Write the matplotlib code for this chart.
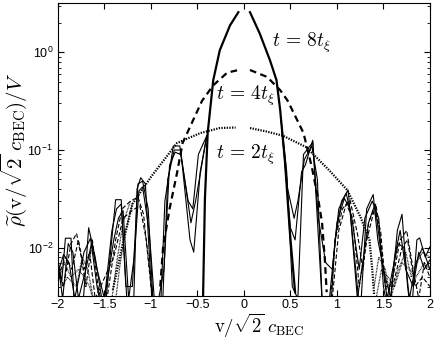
import numpy as np
import matplotlib
matplotlib.use("Agg")
import matplotlib.pyplot as plt

nan = np.nan

# thick central curves
v_t8 = [-0.44, -0.42, -0.39, -0.33, -0.26, -0.15, -0.06, nan, 0.065, 0.17, 0.28, 0.35, 0.39, 0.44, 0.495, 0.55]
r_t8 = [0.003, 0.031, 0.15, 0.52, 1.05, 1.89, 2.58, nan, 2.58, 1.56, 0.83, 0.52, 0.255, 0.079, 0.014, 0.0035]

v_t4 = [-0.90, -0.87, -0.80, -0.72, -0.66, -0.45, -0.33, -0.18, -0.06, nan,
        0.065, 0.25, 0.39, 0.47, 0.64, 0.73, 0.80, 0.84, 0.87, 0.89]
r_t4 = [0.004, 0.010, 0.025, 0.058, 0.118, 0.32, 0.46, 0.62, 0.66, nan,
        0.66, 0.56, 0.41, 0.32, 0.15, 0.067, 0.031, 0.018, 0.0076, 0.0035]

v_t2 = [-1.41, -1.31, -1.20, -1.00, -0.72, -0.47, -0.26, -0.09, nan,
        0.065, 0.24, 0.42, 0.67, 0.91, 1.11, 1.25, 1.35, 1.38, 1.40]
r_t2 = [0.0037, 0.0103, 0.028, 0.053, 0.118, 0.149, 0.168, 0.17, nan,
        0.168, 0.155, 0.14, 0.107, 0.063, 0.039, 0.021, 0.012, 0.006, 0.0033]

# thin solid (t = 8 t_xi realisations)
v_s1 = [-2.00, -1.96, -1.92, -1.86, -1.82, -1.74, -1.67, -1.60, -1.50, -1.44, -1.38, -1.32, -1.25,
        -1.19, -1.15, -1.11, -1.06, -0.98, -0.90, -0.85, -0.76, -0.69, -0.57, -0.52, -0.40, nan,
        0.40, 0.50, 0.55, 0.62, 0.66, 0.74, 0.85, 0.93, 0.98, 1.05, 1.12, 1.18, 1.25, 1.32, 1.39,
        1.44, 1.52, 1.58, 1.65, 1.70, 1.76, 1.80, 1.86, 1.89, 1.95, 2.00]
r_s1 = [0.0075, 0.0045, 0.0125, 0.0125, 0.002, 0.002, 0.016, 0.008, 0.002, 0.008, 0.031, 0.031, 0.002,
        0.002, 0.04, 0.052, 0.045, 0.002, 0.002, 0.03, 0.11, 0.11, 0.018, 0.030, 0.14, nan,
        0.2, 0.016, 0.012, 0.06, 0.07, 0.126, 0.002, 0.002, 0.012, 0.03, 0.039, 0.01, 0.002, 0.025, 0.035,
        0.012, 0.005, 0.003, 0.015, 0.022, 0.004, 0.002, 0.012, 0.0126, 0.008, 0.0102]

v_s2 = [-2.00, -1.94, -1.88, -1.82, -1.72, -1.65, -1.58, -1.52, -1.42, -1.37, -1.32, -1.27, -1.20,
        -1.14, -1.09, -1.03, -0.97, -0.88, -0.82, -0.75, -0.68, -0.58, -0.54, -0.47, -0.40, nan,
        0.40, 0.46, 0.52, 0.58, 0.64, 0.74, 0.80, 0.88, 0.95, 1.02, 1.10, 1.16, 1.24, 1.30, 1.38,
        1.45, 1.50, 1.56, 1.62, 1.68, 1.74, 1.82, 1.88, 1.94, 2.00]
r_s2 = [0.0055, 0.0085, 0.0070, 0.0030, 0.009, 0.0125, 0.004, 0.002, 0.015, 0.025, 0.028, 0.004, 0.004,
        0.045, 0.048, 0.025, 0.002, 0.002, 0.05, 0.10, 0.10, 0.012, 0.009, 0.06, 0.14, nan,
        0.2, 0.06, 0.004, 0.003, 0.09, 0.12, 0.02, 0.007, 0.006, 0.025, 0.036, 0.02, 0.006, 0.02, 0.03,
        0.02, 0.004, 0.002, 0.008, 0.015, 0.006, 0.004, 0.009, 0.006, 0.0075]

v_s3 = [-2.00, -1.95, -1.89, -1.84, -1.78, -1.70, -1.64, -1.58, -1.50, -1.40, -1.35, -1.30, -1.24,
        -1.18, -1.13, -1.09, -1.02, -0.95, -0.86, -0.80, -0.74, -0.68, -0.60, -0.55, -0.49, -0.40, nan,
        0.40, 0.47, 0.54, 0.58, 0.65, 0.73, 0.79, 0.84, 0.92, 1.00, 1.08, 1.14, 1.22, 1.34, 1.41,
        1.48, 1.54, 1.60, 1.66, 1.72, 1.78, 1.85, 1.92, 2.00]
r_s3 = [0.007, 0.003, 0.011, 0.009, 0.003, 0.006, 0.011, 0.006, 0.003, 0.012, 0.02, 0.024, 0.003,
        0.008, 0.038, 0.042, 0.015, 0.002, 0.006, 0.07, 0.095, 0.09, 0.03, 0.025, 0.09, 0.14, nan,
        0.2, 0.04, 0.02, 0.03, 0.08, 0.11, 0.05, 0.003, 0.003, 0.018, 0.032, 0.025, 0.003, 0.018, 0.028,
        0.008, 0.003, 0.006, 0.011, 0.01, 0.003, 0.007, 0.01, 0.006]

# thin dashed (t = 4 t_xi realisations)
v_d1 = [-2.00, -1.94, -1.86, -1.80, -1.75, -1.70, -1.63, -1.57, -1.50, -1.38, -1.31, -1.22, -1.14,
        -1.08, -1.00, -0.95, nan,
        0.92, 0.98, 1.06, 1.14, 1.22, 1.28, 1.34, 1.42, 1.48, 1.54, 1.62, 1.68, 1.75, 1.82, 1.88, 1.94, 2.00]
r_d1 = [0.006, 0.004, 0.011, 0.014, 0.008, 0.004, 0.012, 0.004, 0.002, 0.012, 0.025, 0.03, 0.033,
        0.022, 0.004, 0.002, nan,
        0.002, 0.012, 0.025, 0.031, 0.014, 0.006, 0.018, 0.028, 0.01, 0.003, 0.006, 0.012, 0.015, 0.006,
        0.003, 0.007, 0.005]

v_d2 = [-2.00, -1.92, -1.85, -1.78, -1.72, -1.66, -1.60, -1.40, -1.30, -1.20, -1.12, -1.05, -0.98, nan,
        0.95, 1.02, 1.10, 1.17, 1.24, 1.32, 1.40, 1.47, 1.52, 1.60, 1.70, 1.76, 1.84, 1.92, 2.00]
r_d2 = [0.005, 0.008, 0.006, 0.012, 0.006, 0.009, 0.003, 0.008, 0.02, 0.024, 0.027, 0.012, 0.003, nan,
        0.003, 0.015, 0.028, 0.02, 0.004, 0.012, 0.024, 0.015, 0.004, 0.004, 0.01, 0.012, 0.004, 0.005, 0.004]

# thin dotted (t = 2 t_xi realisations)
v_p1 = [-2.00, -1.95, -1.90, -1.80, -1.74, -1.68, -1.62, nan, -1.42, -1.36, -1.30, -1.22, nan,
        1.40, 1.45, 1.52, 1.58, 1.66, 1.74, 1.80, 1.86, 1.92, 2.00]
r_p1 = [0.006, 0.004, 0.005, 0.004, 0.008, 0.006, 0.003, nan, 0.003, 0.008, 0.018, 0.03, nan,
        0.004, 0.008, 0.006, 0.003, 0.006, 0.009, 0.005, 0.007, 0.009, 0.008]

v_p2 = [-2.00, -1.93, -1.86, -1.78, -1.72, -1.66, -1.58, nan, -1.40, -1.34, -1.28, -1.20, nan,
        1.42, 1.48, 1.55, 1.62, 1.70, 1.78, 1.85, 1.94, 2.00]
r_p2 = [0.0045, 0.007, 0.005, 0.006, 0.005, 0.004, 0.002, nan, 0.002, 0.006, 0.014, 0.028, nan,
        0.003, 0.006, 0.005, 0.004, 0.007, 0.006, 0.005, 0.007, 0.006]

plt.rcParams['mathtext.fontset'] = 'cm'
plt.rcParams['font.family'] = ['Liberation Sans', 'DejaVu Sans']

fig = plt.figure(figsize=(4.36, 3.41), dpi=100)
ax = fig.add_axes([0.133, 0.132, 0.853, 0.859])

dot = (0, (0.6, 0.6))
for v, r in [(v_s1, r_s1), (v_s2, r_s2), (v_s3, r_s3)]:
    ax.plot(v, r, color='k', lw=0.8, ls='-')
for v, r in [(v_d1, r_d1), (v_d2, r_d2)]:
    ax.plot(v, r, color='k', lw=0.8, ls=(0, (4, 2)))
for v, r in [(v_p1, r_p1), (v_p2, r_p2)]:
    ax.plot(v, r, color='k', lw=0.9, ls=dot)

ax.plot(v_t8, r_t8, color='k', lw=1.6, ls='-')
ax.plot(v_t4, r_t4, color='k', lw=1.6, ls=(0, (3, 2)))
ax.plot(v_t2, r_t2, color='k', lw=1.6, ls=dot)

ax.set_yscale('log')
ax.set_xlim(-2, 2)
ax.set_ylim(0.0032, 3.2)
ax.set_xticks(np.arange(-2, 2.01, 0.5))
ax.set_xticklabels(['\u22122', '\u22121.5', '\u22121', '\u22120.5', '0', '0.5', '1', '1.5', '2'])
ax.tick_params(which='both', direction='in', top=True, right=True, labelsize=9)
ax.tick_params(which='major', length=4)
ax.tick_params(which='minor', length=2)
ax.tick_params(axis='x', pad=2.5)
for s in ax.spines.values():
    s.set_linewidth(0.8)

ax.text(0.30, 1.26, r'$t\,=\,8t_\xi$', fontsize=14, va='center')
ax.text(-0.30, 0.36, r'$t\,=\,4t_\xi$', fontsize=14, va='center')
ax.text(-0.30, 0.089, r'$t\,=\,2t_\xi$', fontsize=14, va='center')

ax.set_xlabel(r'$\mathrm{v}/\sqrt{2}\;c_{\mathrm{BEC}}$', fontsize=13.5)
ax.xaxis.set_label_coords(0.54, -0.053)
ax.set_ylabel(r'$\widetilde{\rho}(\mathrm{v}/\sqrt{2}\;c_{\mathrm{BEC}})/V$', fontsize=15)
ax.yaxis.set_label_coords(-0.078, 0.5)

fig.savefig('out.png', dpi=100)
